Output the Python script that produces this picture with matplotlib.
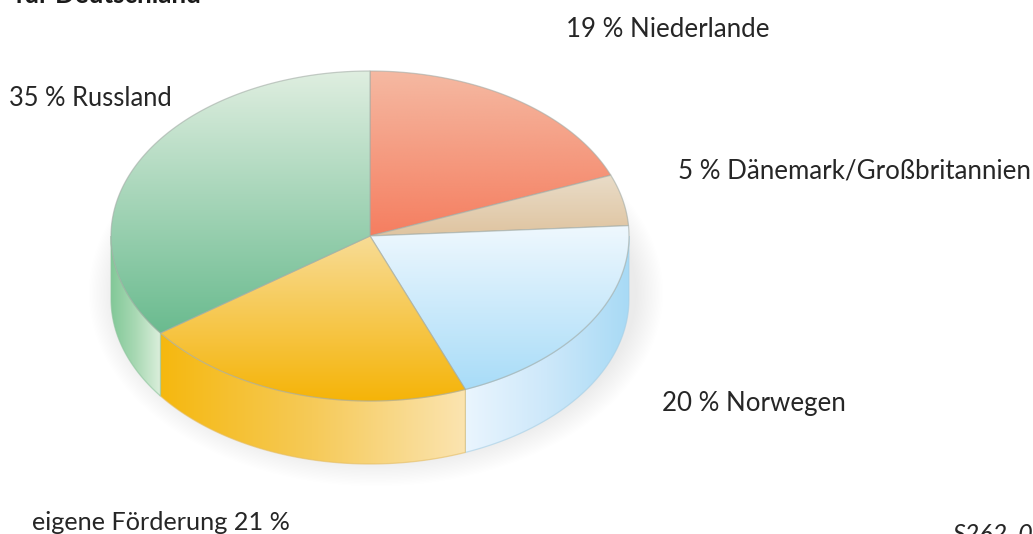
import numpy as np
from matplotlib import pyplot as plt
from matplotlib.colors import LinearSegmentedColormap
from matplotlib.patches import Ellipse, Polygon

plt.rcParams['font.family'] = ['Lato', 'DejaVu Sans']

# Anteile im Uhrzeigersinn, oben beginnend
names = ['Niederlande', 'Dänemark/Großbritannien', 'Norwegen', 'eigene Förderung', 'Russland']
shares = [19, 5, 20, 21, 35]
labels = ['19 % Niederlande', '5 % Dänemark/Großbritannien', '20 % Norwegen',
          'eigene Förderung 21 %', '35 % Russland']
label_x = [566, 678, 662, 32, 9]
label_y = [37, 178, 411, 530, 106]
label_size = [18.6, 18.6, 18.6, 18.2, 18.4]

top_colors = [['#f5b9a2', '#f57e60'],
              ['#e9dcc8', '#dfc4a0'],
              ['#eff8fe', '#a8dcf8'],
              ['#f8dc96', '#f5b408'],
              ['#dfeee0', '#6abb8f']]
side_colors = {'Norwegen': ['#eaf5fe', '#cde8fa', '#a8daf5'],
               'eigene Förderung': ['#f5b80f', '#f6ca58', '#fbe4b0'],
               'Russland': ['#82c898', '#a9d9b4', '#dcefdc']}
side_lines = {'Norwegen': '#a5cfe6', 'eigene Förderung': '#e6bd62', 'Russland': '#8cc49c'}
line_color = '#a3aca6'

cx, cy, rx, ry, depth = 370, 236, 259, 165, 63

fig = plt.figure(figsize=(10.33, 5.34), dpi=100)
ax = fig.add_axes([0, 0, 1, 1])


def arc(t0, t1, dy=0, n=120):
    t = np.radians(np.linspace(t0, t1, n))
    return np.column_stack([cx + rx * np.cos(t), cy + dy - ry * np.sin(t)])


def fill_gradient(points, colors, horizontal, z, edge=line_color):
    # Verlauf als Bild, auf die Form zugeschnitten
    x0, y0 = points.min(axis=0)
    x1, y1 = points.max(axis=0)
    cmap = LinearSegmentedColormap.from_list('g', colors)
    grad = np.linspace(0, 1, 256)
    grad = grad[None, :] if horizontal else grad[:, None]
    im = ax.imshow(grad, cmap=cmap, extent=[x0, x1, y1, y0], aspect='auto', zorder=z,
                   interpolation='bilinear')
    poly = Polygon(points, closed=True, fc='none', ec=edge, lw=0.9, alpha=0.6, zorder=z + 0.1)
    ax.add_patch(poly)
    im.set_clip_path(poly)


# weicher Schatten
for i in range(20):
    grow = 28 - i * 1.4
    ax.add_patch(Ellipse((cx + 6, cy + depth - 6), 2 * (rx + grow), 2 * (ry + grow),
                         fc='#d2ccd2', ec='none', alpha=0.008, zorder=1))

# Winkel aus den Anteilen
bounds = 90 - 360 * np.cumsum([0] + shares) / sum(shares)

# Mantel (nur untere Hälfte sichtbar)
for k, name in enumerate(names):
    if name not in side_colors:
        continue
    t0 = min(bounds[k], 0)
    t1 = max(bounds[k + 1], -180)
    if name == 'Russland':
        t0, t1 = bounds[k], -180
    top_edge = arc(t0, t1)
    bottom_edge = arc(t1, t0, depth)
    fill_gradient(np.vstack([top_edge, bottom_edge]), side_colors[name], True, 2 + k * 0.2,
                  edge=side_lines[name])

# Deckfläche
for k, name in enumerate(names):
    points = np.vstack([[cx, cy], arc(bounds[k], bounds[k + 1])])
    fill_gradient(points, top_colors[k], False, 4 + k * 0.2)

for s, x, y, fs in zip(labels, label_x, label_y, label_size):
    ax.text(x, y, s, fontsize=fs, color='#262626', ha='left', va='baseline', zorder=8)

# am Bildrand abgeschnittene Texte
ax.text(15, 3, 'für Deutschland', fontsize=18.6, fontweight='bold', color='#1a1a1a',
        ha='left', va='baseline', zorder=8)
ax.text(953, 542, 'S262_0', fontsize=18, fontstyle='italic', color='#262626',
        ha='left', va='baseline', zorder=8)

ax.set_xlim(0, 1033)
ax.set_ylim(534, 0)
ax.axis('off')
fig.savefig('out.png', dpi=100)
